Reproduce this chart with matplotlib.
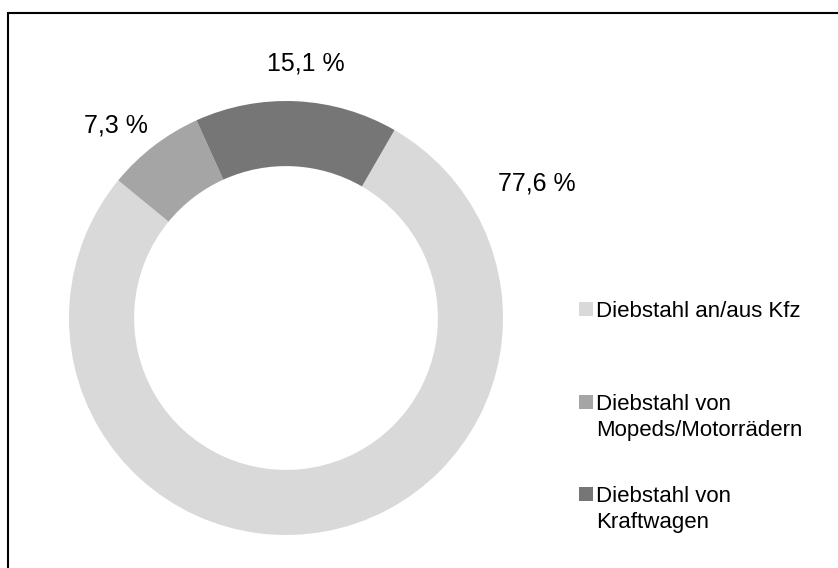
import matplotlib
matplotlib.use("Agg")
import matplotlib.pyplot as plt
from matplotlib.patches import Rectangle

plt.rcParams['font.family'] = ['Liberation Sans', 'DejaVu Sans']

# Data
categories = ['Diebstahl an/aus Kfz', 'Diebstahl von\nMopeds/Motorrädern', 'Diebstahl von\nKraftwagen']
shares = [77.6, 7.3, 15.1]
colors = ['#d9d9d9', '#a5a5a5', '#767676']

W, H = 838, 568
fig = plt.figure(figsize=(W / 100, H / 100), dpi=100)
ax = fig.add_axes([0, 0, 1, 1])

# donut, first slice starts 30 deg clockwise from 12 o'clock
R = 217
cx, cy = 286, H - 318
wedges, _ = ax.pie(shares, colors=colors, startangle=60, counterclock=False,
                   radius=R, center=(cx, cy),
                   wedgeprops=dict(width=R * 0.30, edgecolor='none', linewidth=0))

# data labels
label_pos = [(537, 183), (116, 126), (306, 63)]
for v, (x, y) in zip(shares, label_pos):
    ax.text(x, H - y, f"{v:.1f} %".replace('.', ','), fontsize=18,
            ha='center', va='center', color='#000000')

# legend drawn by hand (Excel style spacing)
leg_tops = [302, 395, 487]
for w, lab, top in zip(wedges, categories, leg_tops):
    ax.add_patch(Rectangle((579, H - top - 14), 14, 14, facecolor=w.get_facecolor(),
                           edgecolor='none'))
    ax.text(596, H - top + 1, lab, fontsize=16, ha='left', va='top',
            linespacing=1.3, color='#000000')

# outer frame (only top and left visible)
ax.add_patch(Rectangle((8, -20), W + 40, H - 13 + 20, fill=False, edgecolor='#000000',
                       linewidth=1.5, clip_on=False))

ax.set_xlim(0, W)
ax.set_ylim(0, H)
ax.set_aspect('auto')
ax.set_axis_off()

fig.savefig('out.png', dpi=100, facecolor='white')
